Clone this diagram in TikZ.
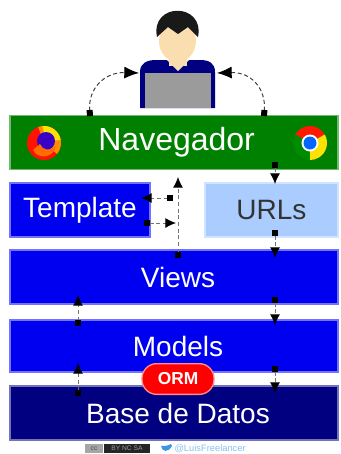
\documentclass[tikz,border=0pt]{standalone}
\usepackage{fontspec}
\setmainfont{Liberation Sans}
\usetikzlibrary{arrows.meta}

\definecolor{verdeNav}{RGB}{0,128,0}
\definecolor{azulCapa}{RGB}{0,0,240}
\definecolor{azulBD}{RGB}{0,0,128}
\definecolor{celeste}{RGB}{170,204,255}
\definecolor{rojoORM}{RGB}{255,0,0}
\definecolor{piel}{RGB}{250,222,176}
\definecolor{grisPC}{RGB}{155,155,155}
\definecolor{twitter}{RGB}{60,150,230}

\tikzset{every picture/.style={line width=0.75pt}}
\tikzset{
  capa/.style={draw=#1!55!white, fill=#1, line width=1.2pt, minimum width=246pt,
    minimum height=40.5pt, inner sep=0pt, text=white, font=\fontsize{21}{23}\selectfont},
  flecha/.style={densely dashed, black!55,
    arrows={Square[length=4.5pt,width=4.5pt,color=black]-Latex[length=8pt,width=7.5pt,color=black]}},
  enlace/.style={densely dashed, black!75,
    arrows={Square[length=4.5pt,width=4.5pt,color=black]-Latex[length=11pt,width=9pt,color=black]}}
}

\begin{document}
\begin{tikzpicture}[x=0.75pt,y=0.75pt,yscale=-1,xscale=1]
    \useasboundingbox (0,0) rectangle (341,454);

    %Shape: person with laptop
    \fill[azulBD] (140,108) -- (140,72) .. controls (140,63) and (147,60) .. (156,60) -- (200,60) .. controls (209,60) and (215,63) .. (215,72) -- (215,108) -- cycle ;
    \fill[piel] (169,54) rectangle (187,66) ;
    \fill[piel] (167,60) -- (189,60) -- (178,71) -- cycle ;
    \fill[piel] (177.5,41) ellipse (18.5 and 21) ;
    \fill[black!90] (157,37) .. controls (150,2) and (205,2) .. (198,37) -- (188,27) -- (178,34) -- (168,27) -- cycle ;
    \fill[grisPC] (145,73) rectangle (211,108) ;

    %Shape: layers
    \node[capa=verdeNav, font=\fontsize{24}{26}\selectfont] (nav) at (174,142.5) {\hspace*{4pt}Navegador};
    \node[capa=azulCapa, minimum width=105pt] (template) at (80,210) {Template};
    \node[capa=celeste, minimum width=99.75pt, text=black!80] (urls) at (271.5,210) {URLs};
    \node[capa=azulCapa] (views) at (174,277) {\hspace*{6pt}Views};
    \node[capa=azulCapa, minimum height=39pt] (models) at (174,346) {\hspace*{6pt}Models};
    \node[capa=azulBD] (bd) at (174,413) {\hspace*{6pt}Base de Datos};
    \node[fill=rojoORM, draw=rojoORM!45!white, line width=1pt, rounded corners=11pt,
      minimum width=54pt, minimum height=23pt, inner sep=0pt, text=white,
      font=\bfseries\fontsize{13}{14}\selectfont] (orm) at (178,379) {ORM};

    %Shape: Firefox
    \fill[red!85!orange] (44,143) circle (17) ;
    \fill[orange!90!yellow] (44,143) -- ++(-110:17) arc[start angle=-110, end angle=40, radius=17] -- cycle ;
    \fill[yellow!85!orange] (44,143) ++(-95:17) arc[start angle=-95, end angle=-10, radius=17] -- (46,141) -- cycle ;
    \fill[blue!55!violet] (46,141) circle (9) ;
    \fill[orange!85!red] (33,150) .. controls (38,160) and (54,158) .. (56,146) .. controls (50,152) and (42,150) .. (40,144) -- cycle ;

    %Shape: Chrome
    \fill[red!80!orange] (310,143) -- ++(-150:17) arc[start angle=-150, end angle=-30, radius=17] -- cycle ;
    \fill[green!55!black] (310,143) -- ++(90:17) arc[start angle=90, end angle=210, radius=17] -- cycle ;
    \fill[yellow!85!orange] (310,143) -- ++(-30:17) arc[start angle=-30, end angle=90, radius=17] -- cycle ;
    \fill[white] (310,143) circle (8.5) ;
    \fill[blue!60!cyan] (310,143) circle (6.5) ;

    %Connectors
    \coordinate (navL) at (90,116) ;
    \coordinate (pcL) at (139,73) ;
    \coordinate (navR) at (264,116) ;
    \coordinate (pcR) at (217,73) ;
    \draw[enlace] (navL) .. controls (88,88) and (105,72) .. (pcL) ;
    \draw[enlace] (navR) .. controls (266,88) and (251,72) .. (pcR) ;

    \coordinate (vistaSup) at (178,258) ;
    \coordinate (navInf) at (178,177) ;
    \draw[flecha] (vistaSup) -- (navInf) ;
    \coordinate (tA) at (173,198) ;
    \coordinate (tB) at (141,198) ;
    \coordinate (tC) at (144,223) ;
    \coordinate (tD) at (176,223) ;
    \draw[flecha] (tA) -- (tB) ;
    \draw[flecha] (tC) -- (tD) ;

    \coordinate (r1) at (275,162) ;
    \coordinate (r2) at (275,184) ;
    \coordinate (r3) at (275,230) ;
    \coordinate (r4) at (275,258) ;
    \coordinate (r5) at (275,297) ;
    \coordinate (r6) at (275,325) ;
    \coordinate (r7) at (275,366) ;
    \coordinate (r8) at (275,393) ;
    \draw[flecha] (r1) -- (r2) ;
    \draw[flecha] (r3) -- (r4) ;
    \draw[flecha] (r5) -- (r6) ;
    \draw[flecha] (r7) -- (r8) ;

    \coordinate (l1) at (78,326) ;
    \coordinate (l2) at (78,295) ;
    \coordinate (l3) at (78,396) ;
    \coordinate (l4) at (78,363) ;
    \draw[flecha] (l1) -- (l2) ;
    \draw[flecha] (l3) -- (l4) ;

    %Footer
    \node[fill=black!35, minimum width=13pt, minimum height=7pt, inner sep=0pt, text=black!70, font=\fontsize{5}{5}\selectfont] (cc) at (94,448.5) {cc};
    \node[fill=black!85, minimum width=35pt, minimum height=7pt, inner sep=0pt, text=black!40, font=\fontsize{5}{5}\selectfont, anchor=west] (licencia) at (cc.east) {BY NC SA};
    \fill[twitter] (161,446) .. controls (162,452) and (168,453) .. (172,446) -- (171,444) .. controls (168,446) and (164,446) .. (161,446) -- cycle ;
    \node[anchor=west, inner sep=0pt, text=twitter!60, font=\fontsize{7}{7}\selectfont] (autor) at (174,448.5) {@LuisFreelancer};
\end{tikzpicture}
\end{document}
